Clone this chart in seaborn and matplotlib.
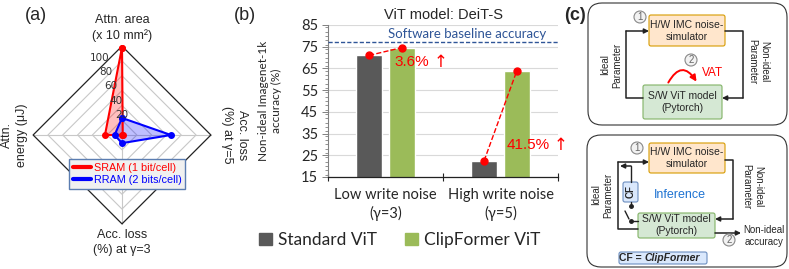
import numpy as np
import pandas as pd
import seaborn as sns
import matplotlib.pyplot as plt
from matplotlib.patches import FancyBboxPatch, Circle, FancyArrowPatch, Patch
from matplotlib.lines import Line2D
from matplotlib.ticker import MultipleLocator

# (a) radar data: top, right, bottom, left
radar_angles_deg = [90, 0, -90, 180]
radar_rings = [20, 40, 60, 80, 100]
radar_max = 120
sram_vals = [118, 1, 0, 23]
rram_vals = [23, 66, 11, 10]

# (b) bar data
conditions = ["Low write noise\n(γ=3)", "High write noise\n(γ=5)"]
models = ["Standard ViT", "ClipFormer ViT"]
standard_acc = [71.0, 22.5]
clipformer_acc = [74.6, 64.0]
gains = ["3.6%", "41.5%"]
baseline_acc = 77.3

sns.set_theme(style="white")
plt.rcParams['font.family'] = ['Liberation Sans', 'DejaVu Sans']
bar_font = ['Lato', 'DejaVu Sans']

W, H = 789, 269
fig = plt.figure(figsize=(W / 100, H / 100), dpi=100)


def fig_rect(x0, y0, x1, y1):
    return [x0 / W, 1 - y1 / H, (x1 - x0) / W, (y1 - y0) / H]


# overlay in pixel coordinates for panel (c) and labels
ov = fig.add_axes([0, 0, 1, 1])
ov.set_xlim(0, W)
ov.set_ylim(H, 0)
ov.axis('off')
ov.patch.set_alpha(0)

# ---------------- (a) radar ----------------
axr = fig.add_axes(fig_rect(22, 35, 222, 235))
axr.set_xlim(-135, 135)
axr.set_ylim(-135, 135)
axr.axis('off')
ang = np.deg2rad(radar_angles_deg)
ux, uy = np.round(np.cos(ang), 6), np.round(np.sin(ang), 6)


def closed(v, u):
    p = np.asarray(v, dtype=float) * u
    return np.append(p, p[0])


for r in radar_rings:
    axr.plot(closed([r] * 4, ux), closed([r] * 4, uy), color='#C8C8C8', lw=0.8, zorder=1)
for i in range(4):
    axr.plot([0, radar_max * ux[i]], [0, radar_max * uy[i]], color='#C8C8C8', lw=0.8, zorder=1)
axr.plot(closed([radar_max] * 4, ux), closed([radar_max] * 4, uy), color='#222222', lw=0.9, zorder=1)

for vals, col in [(sram_vals, '#FF0000'), (rram_vals, '#0000FF')]:
    axr.fill(closed(vals, ux), closed(vals, uy), color=col, alpha=0.25, lw=0, zorder=2)
    axr.plot(closed(vals, ux), closed(vals, uy), color=col, lw=1.5, marker='o', ms=4, zorder=3)

for v in radar_rings:
    axr.text(-0.375 * (v - 20), 27 + 77 * (v - 20) / 80, str(v), fontsize=7.5,
             ha='center', va='center', color='#333333', family=['DejaVu Sans'], zorder=4)

axr.text(0, 144, "Attn. area\n(x 10 mm²)", ha='center', va='center', fontsize=9, linespacing=1.3)
axr.text(152, 0, "Acc. loss\n(%) at γ=5", ha='center', va='center', fontsize=9, rotation=-90, linespacing=1.3)
axr.text(-145, 0, "Attn.\nenergy (μJ)", ha='center', va='center', fontsize=9, rotation=90, linespacing=1.3)
axr.text(0, -145, "Acc. loss\n(%) at γ=3", ha='center', va='center', fontsize=9, linespacing=1.3)

leg = axr.legend([Line2D([], [], color='#FF0000', lw=3), Line2D([], [], color='#0000FF', lw=3)],
                 ["SRAM (1 bit/cell)", "RRAM (2 bits/cell)"], loc='center',
                 bbox_to_anchor=(0.525, 0.305), fontsize=7.8, frameon=True, fancybox=False,
                 edgecolor='#5B7DB1', facecolor='#F0F0F0', framealpha=1, handlelength=1.7,
                 handletextpad=0.25, borderpad=0.35, labelspacing=0.2, labelcolor='linecolor',
                 borderaxespad=0)
leg.get_frame().set_linewidth(1.0)
leg.set_zorder(5)

# ---------------- (b) bars ----------------
axb = fig.add_axes(fig_rect(328, 25, 558, 177))
df = pd.DataFrame({
    'condition': conditions * 2,
    'model': [models[0]] * 2 + [models[1]] * 2,
    'acc': standard_acc + clipformer_acc,
})
sns.barplot(data=df, x='condition', y='acc', hue='model', palette=['#595959', '#9BBB59'],
            width=0.57, gap=0.21, saturation=1, legend=False, ax=axb, zorder=2)
axb.set_ylim(15, 85)
axb.set_xlim(-0.5, 1.5)
axb.set_yticks(np.arange(15, 86, 10))
axb.yaxis.set_minor_locator(MultipleLocator(2))
axb.grid(axis='y', which='major', color='#D9D9D9', lw=0.8, zorder=0)
axb.set_axisbelow(True)
for s in ['top', 'right']:
    axb.spines[s].set_visible(False)
axb.spines['left'].set_color('#808080')
axb.spines['left'].set_linewidth(0.8)
axb.spines['bottom'].set_color('#222222')
axb.spines['bottom'].set_linewidth(0.9)
axb.tick_params(axis='y', which='major', length=4, width=0.7, color='#808080', direction='out',
                labelsize=10.5, pad=3, left=True)
axb.tick_params(axis='y', which='minor', length=2, width=0.6, color='#808080', direction='out', left=True)
for lab in axb.get_yticklabels():
    lab.set_family(bar_font)
axb.set_xticks([-0.5, 0.5, 1.5])
axb.set_xticklabels(['', '', ''])
axb.tick_params(axis='x', which='major', length=6, width=0.8, color='#222222', direction='inout', bottom=True)
axb.set_xticks([0, 1], minor=True)
axb.set_xticklabels(conditions, minor=True, fontsize=10.5, family=bar_font, linespacing=1.35)
axb.tick_params(axis='x', which='minor', length=0, pad=8)
axb.set_xlabel('')
axb.set_ylabel("Non-ideal Imagenet-1k\naccuracy (%)", fontsize=8.5, family=bar_font, linespacing=1.2)
axb.yaxis.set_label_coords(-0.2, 0.5)
axb.set_title("ViT model: DeiT-S", fontsize=10.5, pad=4, family=['Liberation Sans', 'DejaVu Sans'])

axb.axhline(baseline_acc, color='#2F5597', lw=1.0, ls=(0, (3, 1.5)), zorder=3)
axb.text(0.02, baseline_acc + 0.6, "Software baseline accuracy", color='#2F5597', fontsize=9.5,
         ha='left', va='bottom', family=bar_font)

std_bars, clip_bars = axb.containers[0], axb.containers[1]
for i in range(len(conditions)):
    x0 = std_bars[i].get_x() + std_bars[i].get_width() / 2
    x1 = clip_bars[i].get_x() + clip_bars[i].get_width() / 2
    axb.plot([x0, x1], [standard_acc[i], clipformer_acc[i]], color='#FF0000', ls='--', lw=1,
             marker='o', ms=5, zorder=4)

gain_pos = [(0.08, 68), (1.055, 29.7)]
for (gx, gy), g in zip(gain_pos, gains):
    t = axb.text(gx, gy, g, color='#FF0000', fontsize=11, ha='left', va='center')
    axb.annotate("↑", xy=(1, 0.5), xycoords=t, xytext=(3, 0), textcoords='offset points',
                 color='#FF0000', fontsize=12, ha='left', va='center', family=['DejaVu Sans'])

fig.legend(handles=[Patch(color='#595959'), Patch(color='#9BBB59')], labels=models, loc='center',
           bbox_to_anchor=(400 / W, 1 - 240 / H), ncol=2, frameon=False,
           prop={'family': bar_font, 'size': 12.5}, handlelength=0.75, handleheight=0.75,
           handletextpad=0.35, columnspacing=1.6)

# ---------------- panel labels ----------------
ov.text(36, 16, "(a)", fontsize=13, ha='center', va='center')
ov.text(245, 16, "(b)", fontsize=13, ha='center', va='center')
ov.text(575, 16, "(c)", fontsize=13, ha='center', va='center', fontweight='bold')

# ---------------- (c) diagram ----------------
dark = '#222222'


def rbox(x0, y0, x1, y1, fc, ec, rs=2, lw=0.8):
    ov.add_patch(FancyBboxPatch((x0, y0), x1 - x0, y1 - y0, boxstyle=f"round,pad=0,rounding_size={rs}",
                                fc=fc, ec=ec, lw=lw, zorder=2))


def arrow(p0, p1, col=dark):
    ov.annotate('', xy=p1, xytext=p0, arrowprops=dict(arrowstyle='-|>', color=col, lw=1.1,
                                                      shrinkA=0, shrinkB=0, mutation_scale=7), zorder=3)


def step_circle(x, y, t):
    ov.add_patch(Circle((x, y), 6, fc='#F2F2F2', ec='#888888', lw=0.8, zorder=3))
    ov.text(x, y, t, fontsize=7, ha='center', va='center', color='#666666', zorder=4)


# top box: training
rbox(588, 3, 787, 125, 'none', '#333333', rs=14)
rbox(649, 15, 725, 46, '#FFE6CC', '#D79B00')
ov.text(687, 31, "H/W IMC noise-\nsimulator", fontsize=7.5, ha='center', va='center', zorder=4)
rbox(643, 85, 722, 119, '#D5E8D4', '#82B366')
ov.text(682, 102, "S/W ViT model\n(Pytorch)", fontsize=7.5, ha='center', va='center', zorder=4)
ov.plot([643, 626, 626], [98, 98, 31], color=dark, lw=1.1)
arrow((626, 31), (649, 31))
ov.plot([725, 743, 743], [31, 31, 98], color=dark, lw=1.1)
arrow((743, 98), (722, 98))
ov.text(611, 65, "Ideal\nParameter", fontsize=7, rotation=90, ha='center', va='center')
ov.text(758, 62, "Non-ideal\nParameter", fontsize=7, rotation=-90, ha='center', va='center')
step_circle(640, 17, "1")
step_circle(691, 60, "2")
ov.add_patch(FancyArrowPatch((667, 85), (698, 84), connectionstyle='arc3,rad=-0.9', arrowstyle='-|>',
                             mutation_scale=9, color='#FF0000', lw=1.4, zorder=3))
ov.text(702, 73, "VAT", color='#FF0000', fontsize=8.5, ha='left', va='center')

# bottom box: inference
rbox(587, 135, 787, 267, 'none', '#333333', rs=14)
rbox(649, 143, 725, 173, '#FFE6CC', '#D79B00')
ov.text(687, 158, "H/W IMC noise-\nsimulator", fontsize=7.5, ha='center', va='center', zorder=4)
rbox(638, 213, 715, 238, '#D5E8D4', '#82B366')
ov.text(676, 225, "S/W ViT model\n(Pytorch)", fontsize=7.5, ha='center', va='center', zorder=4)
ov.plot([638, 618, 618], [229, 229, 162], color=dark, lw=1.1)
arrow((618, 162), (649, 162))
rbox(623, 182, 638, 202, '#DAE8FC', '#6C8EBF')
ov.text(630.5, 192, "CF", fontsize=7, fontweight='bold', rotation=90, ha='center', va='center', zorder=4)
ov.plot([631, 631], [182, 166], color=dark, lw=1.0)
arrow((631, 166), (620, 166))
ov.plot([631, 631], [202, 206], color=dark, lw=1.0)
ov.plot([631], [206], 'o', color=dark, ms=2.5)
ov.plot([625, 629], [211, 219], color=dark, lw=1.0)
ov.plot([631], [221], 'o', color=dark, ms=2.5)
ov.plot([631, 638], [221, 221], color=dark, lw=1.0)
ov.plot([725, 733, 733], [160, 160, 219], color=dark, lw=1.1)
arrow((733, 219), (715, 219))
arrow((715, 233), (741, 233))
ov.text(764, 236, "Non-ideal\naccuracy", fontsize=7, ha='center', va='center')
step_circle(637, 148, "1")
step_circle(729, 240, "2")
ov.text(602, 195, "Ideal\nParameter", fontsize=7, rotation=90, ha='center', va='center')
ov.text(752, 187, "Non-ideal\nParameter", fontsize=7, rotation=-90, ha='center', va='center')
ov.text(680, 195, "Inference", color='#1E73D2', fontsize=9, ha='center', va='center')
rbox(619, 252, 707, 264, '#DAE8FC', '#6C8EBF')
ov.text(645, 258, "CF = ", fontsize=7.5, fontweight='bold', ha='right', va='center', zorder=4)
ov.text(645, 258, "ClipFormer", fontsize=7.5, fontweight='bold', fontstyle='italic', ha='left',
        va='center', zorder=4)

fig.savefig("out.png", dpi=100)
